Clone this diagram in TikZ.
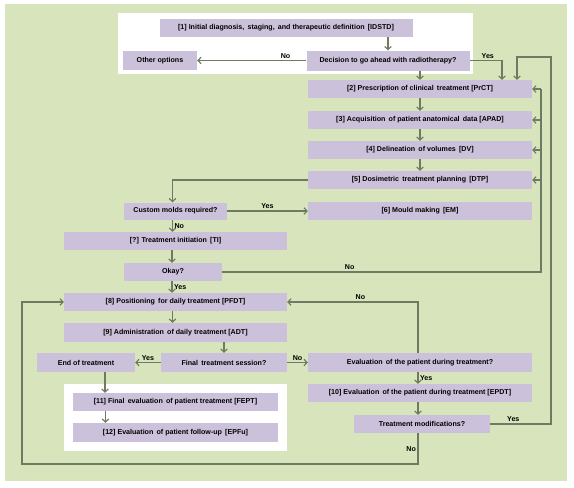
\documentclass[tikz,border=0pt]{standalone}
\usepackage{fontspec}
\setmainfont{Liberation Sans}
\usetikzlibrary{arrows.meta, positioning}
\definecolor{bggreen}{HTML}{D7E4BC}
\definecolor{boxlila}{HTML}{CCC1DA}
\definecolor{flowline}{HTML}{6F7A62}
\tikzstyle{stepbox} = [fill=boxlila, text=black, inner sep=0pt,
    minimum height=18pt, font=\bfseries\fontsize{7.1}{8}\selectfont]
\tikzstyle{flow} = [draw=flowline, line width=1.2pt,
    -{Straight Barb[length=3pt,width=6.5pt]}]
\tikzstyle{tag} = [text=black, font=\bfseries\fontsize{7.1}{8}\selectfont, inner sep=1.5pt]

\begin{document}
\begin{tikzpicture}[x=1pt,y=-1pt]

	\useasboundingbox (0,0) rectangle (574,488);
	\fill[bggreen] (5,4) rectangle (567,481);
	\fill[white] (118,13) rectangle (473,74);   %top panel
	\fill[white] (64,384) rectangle (287,451);  %follow-up panel

	% upper part
	\node[stepbox, minimum width=253pt] at (286,28) (idstd) {[1] Initial diagnosis,\, staging,\, and therapeutic definition\, [IDSTD]};
	\node[stepbox, minimum width=74pt, minimum height=19pt] at (160,60.5) (other) {Other options};
	\node[stepbox, minimum width=163pt, minimum height=20pt] at (388,60.5) (decide) {Decision to go ahead with radiotherapy?};
	\node[stepbox, minimum width=224pt] at (420,89) (prct) {[2] Prescription of clinical\, treatment [PrCT]};
	\node[stepbox, minimum width=224pt] at (420,120) (apad) {[3] Acquisition\, of patient anatomical\, data [APAD]};
	\node[stepbox, minimum width=224pt] at (420,150) (dv) {[4] Delineation\, of volumes\, [DV]};
	\node[stepbox, minimum width=224pt] at (420,180) (dtp) {[5] Dosimetric\, treatment planning\, [DTP]};
	\node[stepbox, minimum width=224pt] at (420,211) (em) {[6] Mould making\, [EM]};

	% left column
	\node[stepbox, minimum width=103pt, minimum height=17pt] at (175.5,211) (molds) {Custom molds required?};
	\node[stepbox, minimum width=223pt] at (175.5,241) (ti) {[?] Treatment initiation\, [TI]};
	\node[stepbox, minimum width=98pt] at (173,272) (okay) {Okay?};
	\node[stepbox, minimum width=223pt] at (175.5,302) (pfdt) {[8] Positioning\, for daily treatment [PFDT]};
	\node[stepbox, minimum width=223pt, minimum height=19pt] at (175.5,332.5) (adt) {[9] Administration\, of daily treatment [ADT]};
	\node[stepbox, minimum width=126pt, minimum height=19pt] at (224,362.5) (final) {Final\, treatment session?};
	\node[stepbox, minimum width=98pt, minimum height=19pt] at (86,362.5) (endt) {End of treatment};
	\node[stepbox, minimum width=205pt] at (175.5,402) (fept) {[11] Final\, evaluation\, of patient treatment [FEPT]};
	\node[stepbox, minimum width=205pt, minimum height=19pt] at (175.5,432.5) (epfu) {[12] Evaluation\, of patient follow-up\, [EPFu]};

	% right column, lower
	\node[stepbox, minimum width=224pt, minimum height=19pt] at (420,362.5) (evalq) {Evaluation\, of the patient during treatment?};
	\node[stepbox, minimum width=224pt] at (420,393) (epdt) {[10] Evaluation\, of the patient during treatment [EPDT]};
	\node[stepbox, minimum width=136pt] at (422,424) (tmod) {Treatment modifications?};

	% loop corners
	\coordinate (rloop) at (551,57);
	\coordinate (okloop) at (541,89);
	\coordinate (backloop) at (22,464);

	% top
	\draw[flow] (idstd.south -| decide.north) -- (decide.north);
	\draw[flow] (decide.west) -- node[tag, above, pos=0.19] {No} (other.east);
	\draw[flow] (decide.south -| prct.north) -- (prct.north);
	\draw[flow] (decide.east) -| node[tag, above, pos=0.28] {Yes} ([xshift=82pt]prct.north);

	% planning chain
	\draw[flow] (prct) -- (apad);
	\draw[flow] (apad) -- (dv);
	\draw[flow] (dv) -- (dtp);
	\draw[flow] (dtp.west) -| ([xshift=-3pt]molds.north);
	\draw[flow] (molds.east) -- node[tag, above] {Yes} (em.west);
	\draw[flow] ([xshift=-3pt]molds.south) -- node[tag, right] {No} ([xshift=-3pt]ti.north);
	\draw[flow] ([xshift=-1pt]okay.north |- ti.south) -- ([xshift=-1pt]okay.north);
	\draw[flow] ([xshift=-1pt]okay.south) -- node[tag, right] {Yes} ([xshift=-1pt]okay.south |- pfdt.north);

	% okay? no -> back to planning
	\draw[flowline, line width=1.2pt] (okay.east) -| node[tag, above, pos=0.2] {No} (okloop);
	\draw[flow] (okloop) -- (prct.east);
	\draw[flow] (okloop |- apad.east) -- (apad.east);
	\draw[flow] (okloop |- dv.east) -- (dv.east);
	\draw[flow] (okloop |- dtp.east) -- (dtp.east);

	% daily treatment
	\draw[flow] ([xshift=-3pt]pfdt.south) -- ([xshift=-3pt]adt.north);
	\draw[flow] (adt.south -| final.north) -- (final.north);
	\draw[flow] (final.west) -- node[tag, above, pos=0.5] {Yes} (endt.east);
	\draw[flow] (final.east) -- node[tag, above] {No} (evalq.west);
	\draw[flow] ([xshift=-2pt]evalq.north) |- node[tag, above, pos=0.72] {No} (pfdt.east);
	\draw[flow] ([xshift=-2pt]evalq.south) -- node[tag, right] {Yes} ([xshift=-2pt]epdt.north);
	\draw[flow] ([xshift=-2pt]epdt.south) -- ([xshift=-4pt]tmod.north);
	\draw[flow] (tmod.east) -| node[tag, above, pos=0.19] {Yes} (rloop) -| ([xshift=97pt]prct.north);
	\draw[flow] ([xshift=-4pt]tmod.south) |- node[tag, left, pos=0.26] {No} (backloop) |- (pfdt.west);

	% follow-up
	\draw[flow] ([xshift=19pt]endt.south) -- ([xshift=19pt]endt.south |- fept.north);
	\draw[flow] ([xshift=-70pt]fept.south) -- ([xshift=-70pt]epfu.north);

\end{tikzpicture}
\end{document}
